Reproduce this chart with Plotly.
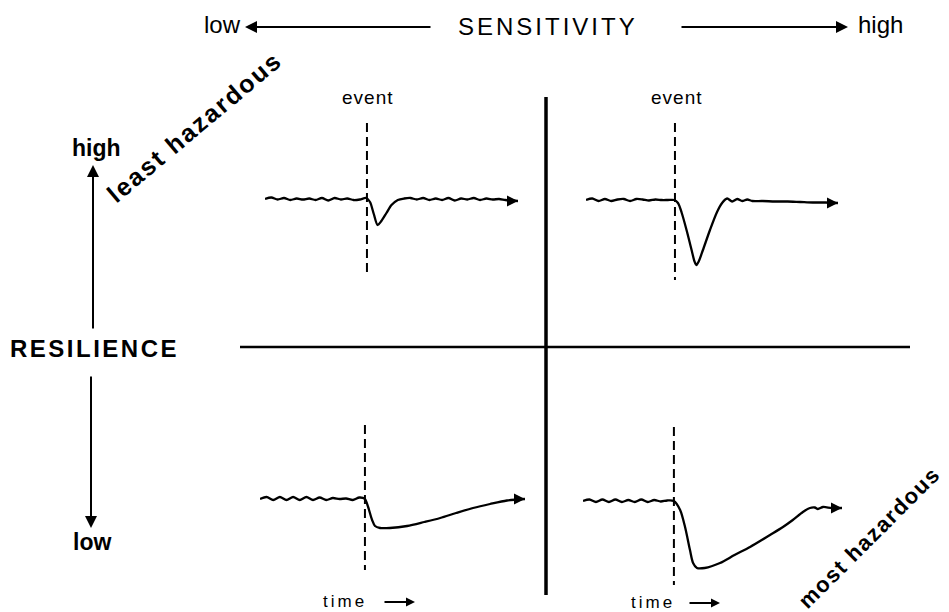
import plotly.graph_objects as go

W, H = 949, 612

# ---------------- data (time in % of panel span, response in px-like units, baseline 0) -------------
tl_time = [0, 2.5, 5, 7.5, 10, 12.5, 15, 17.5, 20, 22.5, 25, 27.5, 30, 32.5, 35, 37.5, 40,
           41.5, 43, 44.5, 46, 48, 50, 52.5,
           55, 57.5, 60, 62.5, 65, 67.5, 70, 72.5, 75, 77.5, 80, 82.5, 85, 87.5, 90, 92.5, 95, 97.5, 100]
tl_resp = [0, 1.5, -0.5, 1, -1, 0.5, -0.5, 0.5, -1, 1, -1.5, 1, -0.5, 0.5, -1, -0.5, 1,
           -3, -15, -26, -22, -14, -6, -1,
           0.5, 1, -0.5, 1, -1, 0.5, -1, 1, -1.5, 0.5, -0.5, 1, -1, 0.5, -0.5, 0, -1, -1.5, -2]

tr_time = [0, 2.5, 5, 7.5, 10, 12.5, 15, 17.5, 20, 22.5, 25, 27.5, 30, 32.5, 35,
           36.5, 38, 40, 42, 43, 43.8, 44.8, 46.4, 49.2, 52, 54,
           56, 58, 60, 62, 64, 66, 70, 75, 80, 85, 90, 95, 100]
tr_resp = [0, 1.5, -1, 1, -1, 0.5, 1, -1, 1, 0.5, -0.5, 0.5, 0, 0, 0,
           -3, -13, -31, -51, -61, -65, -61, -50, -30, -12, -3,
           1.5, -1.5, 1, -1, 0.5, -1, -1, -1.5, -1.5, -2, -2.5, -2.5, -3]

bl_time = [0, 2.5, 5, 7.5, 10, 12.5, 15, 17.5, 20, 22.5, 25, 27.5, 30, 32.5, 35, 37.5, 39.6,
           40.8, 42.3, 43.4, 45.3, 49, 55.5, 62, 68, 74, 80.4, 86.8, 93.2, 100]
bl_resp = [0, 2, -1, 2, -1, 2, -1, 2, -1, 1.5, -1, 1, 0, 0.5, -1, 1.5, 0,
           -8, -21, -27, -29, -29, -27, -23, -19, -14, -9, -5, -1.5, 0]

br_time = [0, 2.5, 5, 7.5, 10, 12.5, 15, 17.5, 20, 22.5, 25, 27.5, 30, 32.5, 35.1,
           37.5, 39.4, 41.3, 42.5, 44, 47, 52.9, 58.5, 64.5, 72.2, 77.2, 81, 84.9, 87.6,
           89.5, 90.7, 92.7, 96, 100]
br_resp = [0, 1.5, -1, 1.5, -1, 1.5, -1, 1, -1, 1.5, -1, 1, -0.5, 0.5, 0,
           -9, -26, -49, -62, -67, -67, -62, -54, -46, -34, -26, -19, -11, -7,
           -6.5, -8, -6, -7, -7]

event_times = {"tl": 40.3, "tr": 35.3, "bl": 39.6, "br": 35.1}

# ---------------- layout geometry (pixels) ----------------
# panel: left px, right px, baseline px, event line top/bottom (response units)
geom = {
    "tl": dict(l=265, r=518, b=199, et=76, eb=-76),
    "tr": dict(l=586, r=838, b=200, et=77, eb=-80),
    "bl": dict(l=260, r=525, b=499, et=74, eb=-71),
    "br": dict(l=583, r=842, b=501, et=74, eb=-84),
}
series = {"tl": (tl_time, tl_resp), "tr": (tr_time, tr_resp),
          "bl": (bl_time, bl_resp), "br": (br_time, br_resp)}


def px(x):
    return x / W


def py(y):
    return 1 - y / H


fig = go.Figure()
layout = dict(width=W, height=H, margin=dict(l=0, r=0, t=0, b=0),
              paper_bgcolor="white", plot_bgcolor="white", showlegend=False)
shapes = []
annotations = []

for i, key in enumerate(["tl", "tr", "bl", "br"]):
    g = geom[key]
    t, v = series[key]
    n = i + 1
    xa = "xaxis" if n == 1 else f"xaxis{n}"
    ya = "yaxis" if n == 1 else f"yaxis{n}"
    xr = "x" if n == 1 else f"x{n}"
    yr = "y" if n == 1 else f"y{n}"
    layout[xa] = dict(domain=[px(g["l"]), px(g["r"])], range=[0, 100], visible=False,
                      anchor=yr, fixedrange=True)
    layout[ya] = dict(domain=[py(g["b"] + 100), py(g["b"] - 100)], range=[-100, 100],
                      visible=False, anchor=xr, fixedrange=True)
    fig.add_trace(go.Scatter(x=t, y=v, mode="lines", xaxis=xr, yaxis=yr,
                             line=dict(color="black", width=2.3, shape="spline", smoothing=0.8),
                             hoverinfo="skip"))
    ev = event_times[key]
    shapes.append(dict(type="line", xref=xr, yref=yr, x0=ev, x1=ev, y0=g["et"], y1=g["eb"],
                       line=dict(color="black", width=2, dash="9px,5px")))
    annotations.append(dict(xref=xr, yref=yr, axref=xr, ayref=yr, x=t[-1], y=v[-1],
                            ax=t[-1] - 4, ay=v[-1], text="", showarrow=True,
                            arrowhead=2, arrowsize=1.1, arrowwidth=2, arrowcolor="black"))

# quadrant dividers
shapes.append(dict(type="line", xref="paper", yref="paper", x0=px(546), x1=px(546),
                   y0=py(97), y1=py(595), line=dict(color="black", width=3.5)))
shapes.append(dict(type="line", xref="paper", yref="paper", x0=px(240), x1=px(910),
                   y0=py(347), y1=py(347), line=dict(color="black", width=2.5)))

FONT = "Liberation Sans, Arial, sans-serif"
NARROW = "Liberation Sans Narrow, Liberation Sans, Arial, sans-serif"


def label(text, x, y, size, family=FONT, angle=0, spacing=0, bold=False):
    s = text
    if spacing:
        s = f'<span style="letter-spacing:{spacing}px">{text}</span>'
    if bold:
        s = f"<b>{s}</b>"
    annotations.append(dict(xref="paper", yref="paper", x=px(x), y=py(y), text=s,
                            showarrow=False, textangle=angle, xanchor="center", yanchor="middle",
                            font=dict(family=family, size=size, color="black")))


def arrow(x0, y0, x1, y1, head=2, size=1.2, width=2):
    annotations.append(dict(xref="paper", yref="paper", x=px(x1), y=py(y1),
                            ax=x0 - x1, ay=y0 - y1, text="", showarrow=True,
                            arrowhead=head, arrowsize=size, arrowwidth=width, arrowcolor="black"))


# top axis
label("SENSITIVITY", 548, 27, 24, NARROW, spacing=3)
label("low", 222, 25, 24, NARROW)
label("high", 880, 25, 24, NARROW)
arrow(432, 27, 245, 27)
arrow(680, 27, 848, 27)

# left axis
label("RESILIENCE", 94, 348, 24, FONT, spacing=2.5, bold=True)
label("high", 96, 148, 23, FONT, bold=True)
label("low", 92, 542, 23, FONT, bold=True)
arrow(93, 330, 93, 165)
arrow(91, 375, 91, 528)

# event / time labels
label("event", 367, 97, 19, NARROW, spacing=1)
label("event", 676, 97, 19, NARROW, spacing=1)
label("time", 345, 601, 17, FONT, spacing=3)
label("time", 653, 602, 17, FONT, spacing=3)
arrow(383, 602, 415, 602, head=2, size=0.9, width=2)
arrow(688, 603, 720, 603, head=2, size=0.9, width=2)

# diagonal labels
label("least hazardous", 194, 127, 25, FONT, angle=-40, spacing=2, bold=True)
label("most hazardous", 869, 537, 22, FONT, angle=-45, spacing=1.5, bold=True)

layout["shapes"] = shapes
layout["annotations"] = annotations
fig.update_layout(**layout)
fig.write_html("out.html", config={"displayModeBar": False},
               post_script="document.body.style.margin='0';document.body.style.overflow='hidden';")
